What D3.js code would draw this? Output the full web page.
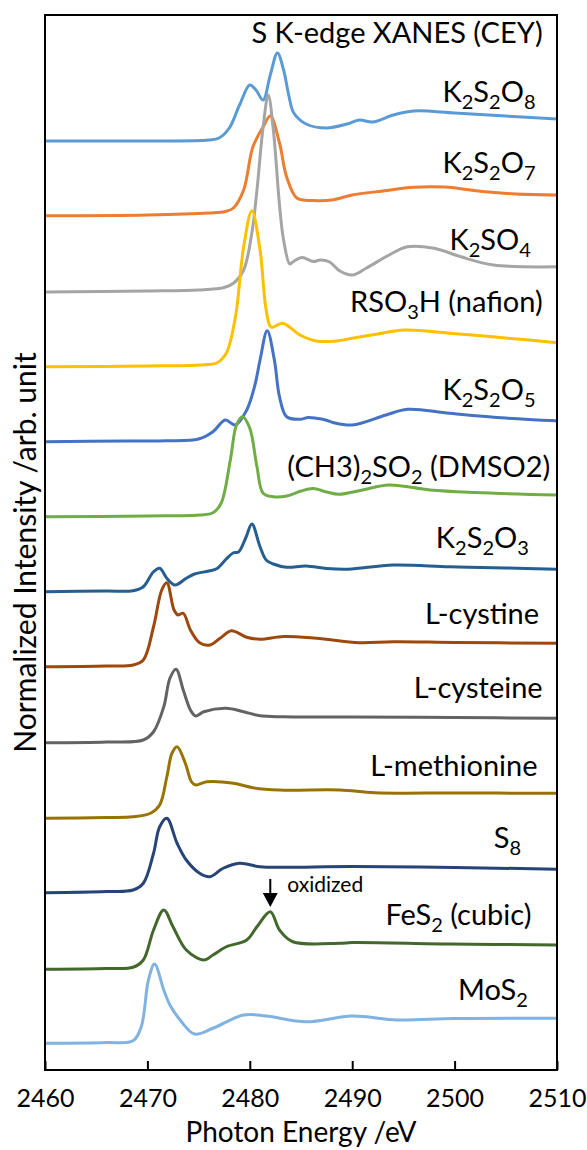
<!DOCTYPE html>
<html>
<head>
<meta charset="utf-8">
<script src="https://cdn.jsdelivr.net/npm/d3@7"></script>
<style>
  html, body { margin: 0; padding: 0; background: #fff; }
  svg { display: block; }
  text { font-family: Lato, "Open Sans", sans-serif; fill: #000; }
</style>
</head>
<body>
<div id="chart"></div>
<script>
// ---------------- DATA ----------------
const xTicks = [2460, 2470, 2480, 2490, 2500, 2510];

const names = ["K_2S_2O_8", "K_2S_2O_7", "K_2SO_4", "RSO_3H (nafion)", "K_2S_2O_5",
  "(CH3)_2SO_2 (DMSO2)", "K_2S_2O_3", "L-cystine", "L-cysteine", "L-methionine",
  "S_8", "FeS_2 (cubic)", "MoS_2"];
const colors = ["#5B9BD5", "#ED7D31", "#A5A5A5", "#FFC000", "#4472C4", "#70AD47",
  "#255E91", "#9E480E", "#636363", "#997300", "#264478", "#43682B", "#80B2E2"];
// vertical stacking offsets (arb. units)
const offsets = [36, 33, 30, 27, 24, 21, 18, 15, 12, 9, 6, 3, 0];

const eK2S2O8 = [2460, 2470, 2476, 2477, 2478, 2479, 2480, 2480.6, 2481.3, 2482, 2482.7, 2483.3, 2483.8, 2484.3, 2485.5, 2487.5, 2489.5, 2490.7, 2492, 2494, 2496, 2500, 2505, 2510];
const iK2S2O8 = [0.08, 0.08, 0.12, 0.2, 0.6, 1.52, 2.32, 2.12, 1.72, 2.72, 3.6, 2.92, 1.92, 1.2, 0.76, 0.6, 0.76, 0.92, 0.84, 1.12, 1.28, 1.2, 1.08, 0.96];

const eK2S2O7 = [2460, 2470, 2476, 2477.6, 2478.4, 2479.4, 2480.3, 2481.3, 2482.0, 2482.9, 2483.6, 2484.6, 2486.2, 2488, 2490, 2493, 2496, 2499, 2503, 2506, 2510];
const iK2S2O7 = [0.09, 0.12, 0.2, 0.26, 0.4, 1.12, 2.84, 3.64, 4.08, 3.0, 1.64, 0.8, 0.7, 0.72, 0.92, 1.08, 1.23, 1.24, 1.05, 0.96, 0.92];

const eK2SO4 = [2460, 2470, 2475, 2477.5, 2478.4, 2479.4, 2480.2, 2480.7, 2481.3, 2481.8, 2482.3, 2482.9, 2483.3, 2483.9, 2484.2, 2485.1, 2486.2, 2486.9, 2487.8, 2488.8, 2490, 2491.4, 2493.6, 2495.4, 2498, 2500.6, 2503.8, 2510];
const iK2SO4 = [0.04, 0.08, 0.12, 0.22, 0.39, 0.92, 2.4, 4.12, 6.64, 7.92, 6.52, 3.52, 2.12, 1.16, 1.24, 1.42, 1.26, 1.32, 1.24, 0.88, 0.72, 1.0, 1.52, 1.85, 1.79, 1.45, 1.12, 1.05];

const eRSO3H = [2460, 2470, 2475.1, 2476.8, 2477.7, 2478.6, 2479.4, 2480.2, 2481.0, 2481.6, 2482.1, 2483.2, 2484.9, 2486.5, 2488.5, 2490, 2492.5, 2495.1, 2499.5, 2505, 2510];
const iRSO3H = [0.05, 0.08, 0.12, 0.21, 0.59, 2.05, 4.85, 6.29, 4.72, 2.32, 1.63, 1.79, 1.32, 1.08, 1.08, 1.19, 1.36, 1.52, 1.39, 1.2, 1.01];

const eK2S2O5 = [2460, 2468, 2471.9, 2475, 2476.4, 2477.6, 2478.6, 2479.7, 2480.5, 2481.0, 2481.7, 2482.4, 2482.9, 2483.6, 2484.9, 2485.7, 2486.5, 2487.4, 2488.2, 2490, 2493.3, 2495.4, 2499.5, 2505, 2510];
const iK2S2O5 = [0.05, 0.08, 0.09, 0.16, 0.45, 0.92, 0.72, 1.32, 2.32, 3.32, 4.49, 3.32, 1.85, 1.05, 0.95, 1.02, 0.99, 0.92, 0.81, 0.72, 1.12, 1.35, 1.19, 1.0, 0.89];

const eDMSO2 = [2460, 2470, 2475.1, 2476.4, 2477.2, 2478.1, 2478.7, 2479.3, 2480.0, 2480.7, 2481.3, 2482.3, 2483.6, 2485, 2486.2, 2487.5, 2488.7, 2491, 2493.6, 2497.6, 2502, 2510];
const iDMSO2 = [0.05, 0.08, 0.12, 0.21, 0.59, 2.32, 3.72, 4.05, 3.59, 2.05, 0.99, 0.85, 0.88, 1.08, 1.18, 1.04, 0.95, 1.12, 1.32, 1.12, 1.02, 0.92];

const eK2S2O3 = [2460, 2466, 2468.6, 2469.6, 2470.6, 2471.2, 2471.9, 2472.7, 2473.8, 2474.6, 2476.0, 2476.8, 2477.7, 2478.4, 2478.9, 2479.6, 2480.2, 2481.0, 2481.6, 2482.3, 2483.6, 2485.5, 2487.5, 2489.6, 2494, 2499.5, 2505, 2510];
const iK2S2O3 = [0.05, 0.08, 0.09, 0.25, 0.85, 0.99, 0.59, 0.32, 0.59, 0.76, 0.88, 0.98, 1.36, 1.61, 1.64, 2.2, 2.76, 1.85, 1.32, 1.16, 1.03, 1.08, 0.98, 0.95, 1.12, 1.05, 1.0, 0.95];

const eCystine = [2460, 2466, 2468.6, 2469.6, 2470.6, 2471.4, 2471.9, 2472.6, 2473.0, 2473.5, 2474.2, 2475.1, 2476.1, 2477.1, 2478.2, 2479.7, 2481.0, 2483.3, 2486.5, 2490.7, 2494, 2500, 2510];
const iCystine = [0.05, 0.08, 0.12, 0.32, 1.65, 3.12, 3.41, 2.32, 2.12, 2.19, 1.52, 1.01, 0.92, 1.19, 1.49, 1.23, 1.15, 1.26, 1.19, 1.01, 1.05, 1.02, 0.99];

const eCysteine = [2460, 2466, 2469.6, 2470.6, 2471.6, 2472.2, 2472.8, 2473.5, 2474.2, 2474.7, 2475.5, 2477.7, 2479.4, 2481, 2483.3, 2490, 2500, 2510];
const iCysteine = [0.01, 0.04, 0.12, 0.45, 1.45, 2.59, 2.95, 2.12, 1.32, 1.08, 1.25, 1.39, 1.25, 1.09, 1.05, 1.04, 1.02, 0.99];

const eMethionine = [2460, 2466, 2468.6, 2470.3, 2471.2, 2471.9, 2472.4, 2472.9, 2473.7, 2474.3, 2474.7, 2475.8, 2478.4, 2480.3, 2482.9, 2488.8, 2492.2, 2500, 2510];
const iMethionine = [-0.01, 0.02, 0.05, 0.19, 0.52, 1.65, 2.59, 2.85, 2.19, 1.45, 1.32, 1.45, 1.39, 1.21, 1.12, 1.12, 1.01, 1.0, 0.99];

const eS8 = [2460, 2466, 2468.6, 2469.6, 2470.6, 2471.2, 2471.9, 2472.9, 2473.8, 2475.1, 2476.1, 2477.4, 2479.0, 2481.0, 2483.3, 2490, 2500, 2510];
const iS8 = [0.01, 0.06, 0.12, 0.39, 1.59, 2.65, 2.99, 1.99, 1.32, 0.79, 0.65, 0.99, 1.19, 1.05, 1.03, 1.06, 1.02, 0.95];

const eFeS2 = [2460, 2466, 2468.6, 2469.6, 2470.6, 2471.6, 2472.5, 2473.8, 2475.5, 2476.4, 2477.7, 2479.7, 2480.7, 2482.0, 2482.9, 2484.2, 2488.8, 2490, 2499.5, 2510];
const iFeS2 = [-0.05, -0.02, 0.03, 0.32, 1.52, 2.32, 1.65, 0.72, 0.32, 0.52, 0.85, 1.12, 1.65, 2.25, 1.52, 1.05, 0.99, 1.02, 0.96, 0.92];

const eMoS2 = [2460, 2466, 2468.6, 2469.4, 2470.1, 2470.7, 2471.6, 2472.2, 2473.2, 2474.6, 2476.4, 2479.4, 2481.6, 2485.5, 2490, 2494.4, 2500, 2510];
const iMoS2 = [-0.01, 0.02, 0.09, 0.65, 2.52, 3.16, 2.12, 1.52, 0.92, 0.36, 0.59, 1.12, 1.08, 0.85, 1.08, 0.92, 0.98, 0.99];

const energies = [eK2S2O8, eK2S2O7, eK2SO4, eRSO3H, eK2S2O5, eDMSO2, eK2S2O3, eCystine, eCysteine, eMethionine, eS8, eFeS2, eMoS2];
const intensities = [iK2S2O8, iK2S2O7, iK2SO4, iRSO3H, iK2S2O5, iDMSO2, iK2S2O3, iCystine, iCysteine, iMethionine, iS8, iFeS2, iMoS2];

// label anchor: right edge (eV) and height above each trace's offset (arb. units)
const labelE = [2507.9, 2507.9, 2507.45, 2508.6, 2507.9, 2509.35, 2507.25, 2508.25, 2508.6, 2508.1, 2506.5, 2507.5, 2507.15];
const labelH = [1.64, 1.79, 1.72, 2.25, 1.72, 1.65, 1.79, 1.76, 1.79, 1.68, 1.79, 1.72, 1.72];

const title = "S K-edge XANES (CEY)";
const xTitle = "Photon Energy /eV";
const yTitle = "Normalized Intensity /arb. unit";
const annotText = "oxidized";
const annotE = 2482;        // energy of the arrow (FeS2 oxidized peak)
const annotTop = 3.56, annotTip = 2.44; // arrow span above the FeS2 offset (arb. units)

// ---------------- CHART ----------------
const W = 587, H = 1150;
const m = { left: 45, right: 30, top: 15, bottom: 80 };
const svg = d3.select("#chart").append("svg").attr("width", W).attr("height", H);

const x = d3.scaleLinear().domain([2460, 2510]).range([m.left, W - m.right]);
const y = d3.scaleLinear().domain([-1.08, 41.12]).range([H - m.bottom, m.top]);

const clipId = "plotclip";
svg.append("clipPath").attr("id", clipId).append("rect")
  .attr("x", m.left).attr("y", m.top).attr("width", x.range()[1] - m.left).attr("height", y.range()[0] - m.top);

const line = d3.line().curve(d3.curveCatmullRom.alpha(0.5));

const gLines = svg.append("g").attr("clip-path", `url(#${clipId})`);
names.forEach((n, k) => {
  const pts = energies[k].map((e, j) => [x(e), y(intensities[k][j] + offsets[k])]);
  gLines.append("path")
    .attr("d", line(pts))
    .attr("fill", "none")
    .attr("stroke", colors[k])
    .attr("stroke-width", 3)
    .attr("stroke-linejoin", "round")
    .attr("stroke-linecap", "round");
});

// frame
svg.append("rect")
  .attr("x", m.left).attr("y", m.top)
  .attr("width", x.range()[1] - m.left).attr("height", y.range()[0] - m.top)
  .attr("fill", "none").attr("stroke", "#000").attr("stroke-width", 2);

// x axis
const xAxis = d3.axisBottom(x).tickValues(xTicks).tickSize(-9).tickPadding(19).tickFormat(d3.format("d"));
const gx = svg.append("g").attr("transform", `translate(0,${y.range()[0]})`).call(xAxis);
gx.select(".domain").remove();
gx.selectAll(".tick line").attr("stroke", "#000").attr("stroke-width", 2);
gx.selectAll(".tick text").attr("font-size", 25).attr("font-family", "Lato").attr("dy", "0.71em");

// axis titles
svg.append("text").attr("x", (x.range()[0] + x.range()[1]) / 2).attr("y", 1142)
  .attr("text-anchor", "middle").attr("font-size", 28).text(xTitle);
svg.append("text").attr("transform", `translate(36,${(y.range()[0] + y.range()[1]) / 2 + 10}) rotate(-90)`)
  .attr("text-anchor", "middle").attr("font-size", 30).text(yTitle);

// title
svg.append("text").attr("x", x(2508.6)).attr("y", 43).attr("text-anchor", "end")
  .attr("font-size", 29).text(title);

// labels with subscripts
function addLabel(str, xr, yb) {
  const t = svg.append("text").attr("x", xr).attr("y", yb).attr("text-anchor", "end").attr("font-size", 29);
  const parts = str.split(/(_\d)/).filter(s => s.length);
  let shifted = false;
  parts.forEach(p => {
    if (p[0] === "_") {
      t.append("tspan").attr("font-size", 20).attr("dy", shifted ? 0 : 7).text(p.slice(1));
      shifted = true;
    } else {
      t.append("tspan").attr("dy", shifted ? -7 : 0).text(p);
      shifted = false;
    }
  });
}
names.forEach((n, k) => addLabel(n, x(labelE[k]), y(offsets[k] + labelH[k])));

// annotation arrow
const ax = x(annotE), yTop = y(offsets[11] + annotTop), yTip = y(offsets[11] + annotTip);
svg.append("line").attr("x1", ax).attr("x2", ax).attr("y1", yTop).attr("y2", yTip - 10)
  .attr("stroke", "#000").attr("stroke-width", 2);
svg.append("path").attr("d", `M${ax - 7.5},${yTip - 14} L${ax + 7.5},${yTip - 14} L${ax},${yTip} Z`).attr("fill", "#000");
svg.append("text").attr("x", ax + 17).attr("y", yTop + 13).attr("font-size", 21).text(annotText);
</script>
</body>
</html>
